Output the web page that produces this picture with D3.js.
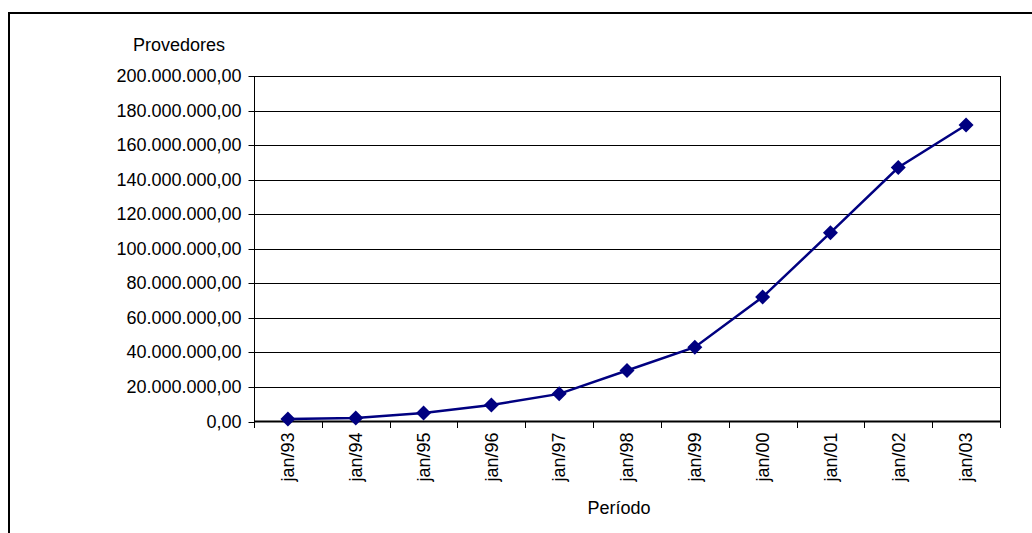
<!DOCTYPE html>
<html>
<head>
<meta charset="utf-8">
<script src="https://cdn.jsdelivr.net/npm/d3@7"></script>
<style>
  html, body { margin: 0; padding: 0; background: #fff; }
  svg { display: block; font-family: "Liberation Sans", Arial, sans-serif; }
</style>
</head>
<body>
<svg id="chart" width="1032" height="533"></svg>
<script>
// Provedores por período (jan/93 – jan/03)
const periodos = ["jan/93", "jan/94", "jan/95", "jan/96", "jan/97", "jan/98",
                  "jan/99", "jan/00", "jan/01", "jan/02", "jan/03"];
const provedores = [1400000, 2000000, 4900000, 9500000, 16000000, 29500000,
                    43000000, 72000000, 109300000, 147000000, 171600000];
const yTicks = [0, 20000000, 40000000, 60000000, 80000000, 100000000,
                120000000, 140000000, 160000000, 180000000, 200000000];

const svg = d3.select("#chart");
const plot = { left: 254, right: 1000, top: 76, bottom: 421.5 };
const navy = "#000080";
const fontSize = 18;

const br = d3.formatLocale({ decimal: ",", thousands: ".", grouping: [3], currency: ["R$", ""] });
const fmt = br.format(",.2f");

// outer chart frame
svg.append("rect")
  .attr("x", 9).attr("y", 13)
  .attr("width", 1100).attr("height", 600)
  .attr("fill", "none").attr("stroke", "#000").attr("stroke-width", 2);

const x = d3.scaleBand().domain(periodos).range([plot.left, plot.right]).padding(0);
const y = d3.scaleLinear().domain([0, 200000000]).range([plot.bottom, plot.top]);

// horizontal gridlines
svg.append("g")
  .selectAll("line")
  .data(yTicks.filter(d => d > 0))
  .join("line")
  .attr("x1", plot.left).attr("x2", plot.right)
  .attr("y1", d => Math.round(y(d)) + 0.5).attr("y2", d => Math.round(y(d)) + 0.5)
  .attr("stroke", "#000").attr("stroke-width", 1);

// right edge of plot area
svg.append("line")
  .attr("x1", plot.right + 0.5).attr("x2", plot.right + 0.5)
  .attr("y1", y(200000000)).attr("y2", plot.bottom)
  .attr("stroke", "#000").attr("stroke-width", 1);

// y axis
const yAxis = svg.append("g")
  .attr("transform", `translate(${plot.left + 0.5},0)`)
  .call(d3.axisLeft(y).tickValues(yTicks).tickFormat(fmt).tickSize(6).tickPadding(7).offset(0));
yAxis.select(".domain").attr("stroke", "#000").attr("d", `M0,${Math.round(y(200000000))}V${plot.bottom}`);
yAxis.selectAll(".tick line").attr("stroke", "#000");
yAxis.selectAll(".tick text")
  .attr("fill", "#000")
  .style("font-size", fontSize + "px")
  .style("font-family", "'Liberation Sans', Arial, sans-serif");
yAxis.selectAll(".tick").attr("transform", d => `translate(0,${Math.round(y(d)) + 0.5})`);

// x axis: labels at category centres, ticks at category boundaries
const xAxis = svg.append("g")
  .attr("transform", `translate(0,${plot.bottom})`)
  .call(d3.axisBottom(x).tickSize(0).tickPadding(0).offset(0));
xAxis.select(".domain").remove();
xAxis.selectAll(".tick text")
  .attr("fill", "#000")
  .attr("text-anchor", "end")
  .attr("dy", "0.35em")
  .attr("transform", "translate(0,11) rotate(-90)")
  .attr("x", 0).attr("y", 0)
  .style("font-size", fontSize + "px")
  .style("font-family", "'Liberation Sans', Arial, sans-serif");

const bounds = periodos.map(p => x(p)).concat([x.range()[1]]);
svg.append("g")
  .selectAll("line")
  .data(bounds)
  .join("line")
  .attr("x1", d => Math.round(d) + 0.5).attr("x2", d => Math.round(d) + 0.5)
  .attr("y1", plot.bottom).attr("y2", plot.bottom + 6.5)
  .attr("stroke", "#000").attr("stroke-width", 1);

svg.append("line")
  .attr("x1", plot.left).attr("x2", plot.right + 1)
  .attr("y1", plot.bottom).attr("y2", plot.bottom)
  .attr("stroke", "#000").attr("stroke-width", 2);

// series line and diamond markers
const cx = p => x(p) + x.bandwidth() / 2;
svg.append("path")
  .datum(periodos.map((p, i) => [cx(p), y(provedores[i])]))
  .attr("d", d3.line())
  .attr("fill", "none").attr("stroke", navy).attr("stroke-width", 2.5);

svg.append("g")
  .selectAll("path")
  .data(periodos)
  .join("path")
  .attr("transform", (p, i) => `translate(${cx(p)},${y(provedores[i])})`)
  .attr("d", "M0,-7.5L7.5,0L0,7.5L-7.5,0Z")
  .attr("fill", navy);

// axis titles
svg.append("text")
  .attr("x", 179).attr("y", 51)
  .attr("text-anchor", "middle")
  .style("font-size", fontSize + "px")
  .text("Provedores");

svg.append("text")
  .attr("x", 619).attr("y", 514)
  .attr("text-anchor", "middle")
  .style("font-size", fontSize + "px")
  .text("Período");
</script>
</body>
</html>
